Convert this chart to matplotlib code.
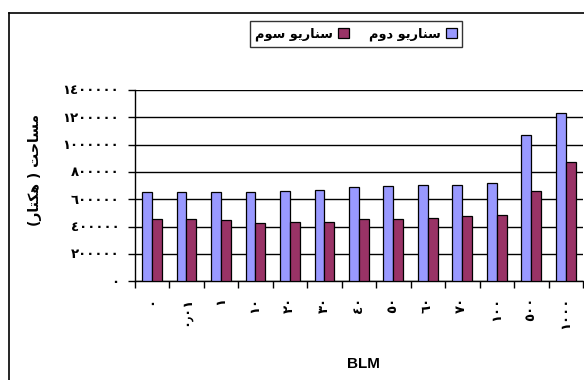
import matplotlib
matplotlib.use('Agg')
import matplotlib.pyplot as plt
import numpy as np
from matplotlib.ticker import FuncFormatter
from matplotlib.lines import Line2D

# Dữ liệu
blm = ['0', '0.01', '1', '10', '20', '30', '40', '50', '60', '70', '100', '500', '1000']
scenario2 = [650000, 650000, 650000, 650000, 658000, 671000, 688000,
             698000, 707000, 707000, 717000, 1068000, 1234000]
scenario3 = [455000, 456000, 446000, 424000, 437000, 437000, 456000,
             456000, 466000, 476000, 485000, 661000, 876000]
name2 = 'سناريو دوم'
name3 = 'سناريو سوم'
ylabel = 'مساحت ( هكتار)'
xlabel = 'BLM'

# bảng chữ Ả Rập: (isolated, final, initial, medial)
FORMS = {
    'س': '\ufeb1\ufeb2\ufeb3\ufeb4',
    'ن': '\ufee5\ufee6\ufee7\ufee8',
    'ي': '\ufef1\ufef2\ufef3\ufef4',
    'م': '\ufee1\ufee2\ufee3\ufee4',
    'ح': '\ufea1\ufea2\ufea3\ufea4',
    'ت': '\ufe95\ufe96\ufe97\ufe98',
    'ه': '\ufee9\ufeea\ufeeb\ufeec',
    'ك': '\ufed9\ufeda\ufedb\ufedc',
    'ا': '\ufe8d\ufe8e\ufe8d\ufe8e',
    'ر': '\ufead\ufeae\ufead\ufeae',
    'د': '\ufea9\ufeaa\ufea9\ufeaa',
    'و': '\ufeed\ufeee\ufeed\ufeee',
}
RIGHT_ONLY = 'اردو'


def shape(text):
    out = []
    for i, ch in enumerate(text):
        if ch not in FORMS:
            out.append(ch)
            continue
        prev = text[i - 1] if i > 0 else ''
        nxt = text[i + 1] if i + 1 < len(text) else ''
        jp = prev in FORMS and prev not in RIGHT_ONLY
        jn = nxt in FORMS and ch not in RIGHT_ONLY
        f = FORMS[ch]
        if jp and jn:
            out.append(f[3])
        elif jp:
            out.append(f[1])
        elif jn:
            out.append(f[2])
        else:
            out.append(f[0])
    mirror = {'(': ')', ')': '('}
    return ''.join(mirror.get(c, c) for c in reversed(out))


def arabic_digits(s):
    return str(s).translate(str.maketrans('0123456789.', '٠١٢٣٤٥٦٧٨٩٫'))


fam = ['Liberation Sans', 'DejaVu Sans']
plt.rcParams['font.family'] = fam
plt.rcParams['font.weight'] = 'bold'

fig = plt.figure(figsize=(5.84, 3.80), dpi=100)
ax = fig.add_axes([134.7 / 584, 98.7 / 380, 448.3 / 584, 191.3 / 380])

x = np.arange(len(blm))
w = 1 / 3.5
ax.bar(x - w / 2, scenario2, width=w, color='#9999FF', edgecolor='black', linewidth=0.9,
       label=shape(name2), zorder=3)
ax.bar(x + w / 2, scenario3, width=w, color='#993366', edgecolor='black', linewidth=0.9,
       label=shape(name3), zorder=3)

ax.set_xlim(-0.5, len(blm) - 0.5)
ax.set_ylim(0, 1400000)
ax.set_yticks(range(0, 1400001, 200000))
ax.yaxis.set_major_formatter(FuncFormatter(lambda v, p: arabic_digits(int(v))))
ax.set_xticks(np.arange(len(blm) + 1) - 0.5)
ax.set_xticklabels([])
ax.set_xticks(x, minor=True)
ax.set_xticklabels([arabic_digits(b) for b in blm], minor=True, rotation=90,
                   fontsize=9.5, fontweight='bold', va='top')
ax.tick_params(axis='x', which='minor', length=0, pad=11)
ax.tick_params(axis='x', which='major', length=5, width=1)
ax.tick_params(axis='y', length=5, width=1, labelsize=9.5, pad=6)
for lab in ax.get_yticklabels():
    lab.set_fontweight('bold')

ax.grid(axis='y', color='black', linewidth=1, zorder=0)
ax.spines['top'].set_visible(False)
ax.spines['right'].set_visible(False)
ax.spines['left'].set_linewidth(1)
ax.spines['bottom'].set_linewidth(1)

fig.text(363 / 584, 1 - 364 / 380, xlabel, ha='center', va='center', fontsize=11, fontweight='bold')
fig.text(35 / 584, 1 - 170 / 380, shape(ylabel), ha='center', va='center', rotation=90,
         fontsize=10, fontweight='bold', family=['DejaVu Sans'])

# chú thích: ô vuông bên phải chữ
h, l = ax.get_legend_handles_labels()
leg = fig.legend(h[::-1], l[::-1], ncol=2, markerfirst=False, loc='center',
                 bbox_to_anchor=(356 / 584, 1 - 34 / 380), frameon=True, fancybox=False,
                 edgecolor='black', handlelength=0.8, handleheight=0.8,
                 handletextpad=0.4, columnspacing=1.6, borderpad=0.45,
                 prop={'family': ['DejaVu Sans'], 'weight': 'bold', 'size': 9.3})
leg.get_frame().set_linewidth(1)

# khung biểu đồ
fig.add_artist(Line2D([9 / 584, 1], [1 - 13 / 380, 1 - 13 / 380], color='black', linewidth=1.2,
                      transform=fig.transFigure))
fig.add_artist(Line2D([9 / 584, 9 / 584], [0, 1 - 13 / 380], color='black', linewidth=1.2,
                      transform=fig.transFigure))

plt.savefig('out.png', dpi=100)
